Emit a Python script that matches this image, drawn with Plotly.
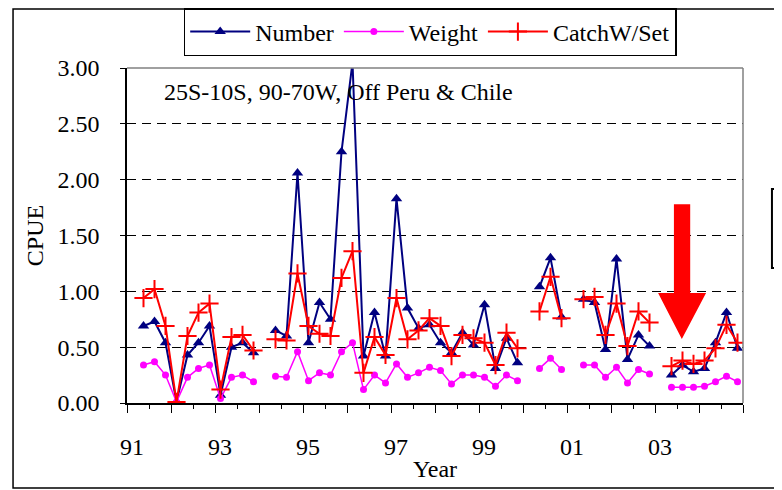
import plotly.graph_objects as go

periods = [
    "1991 Q2", "1991 Q3", "1991 Q4",
    "1992 Q1", "1992 Q2", "1992 Q3", "1992 Q4",
    "1993 Q1", "1993 Q2", "1993 Q3", "1993 Q4",
    "1994 Q1", "1994 Q2", "1994 Q3", "1994 Q4",
    "1995 Q1", "1995 Q2", "1995 Q3", "1995 Q4",
    "1996 Q1", "1996 Q2", "1996 Q3", "1996 Q4",
    "1997 Q1", "1997 Q2", "1997 Q3", "1997 Q4",
    "1998 Q1", "1998 Q2", "1998 Q3", "1998 Q4",
    "1999 Q1", "1999 Q2", "1999 Q3", "1999 Q4",
    "2000 Q1", "2000 Q2", "2000 Q3", "2000 Q4",
    "2001 Q1", "2001 Q2", "2001 Q3", "2001 Q4",
    "2002 Q1", "2002 Q2", "2002 Q3", "2002 Q4",
    "2003 Q1", "2003 Q2", "2003 Q3", "2003 Q4",
    "2004 Q1", "2004 Q2", "2004 Q3", "2004 Q4",
]

number = [
    0.69, 0.73, 0.54,
    0.01, 0.43, 0.54, 0.69,
    0.07, 0.50, 0.54, 0.45,
    None, 0.65, 0.60, 2.06,
    0.54, 0.90, 0.75, 2.25,
    3.05, 0.42, 0.81, 0.42,
    1.83, 0.85, 0.67, 0.70,
    0.54, 0.45, 0.63, 0.52,
    0.88, 0.31, 0.58, 0.36,
    None, 1.04, 1.30, 0.77,
    None, 0.93, 0.90, 0.48,
    1.29, 0.39, 0.61, 0.51,
    None, 0.25, 0.34, 0.28,
    0.31, 0.54, 0.81, 0.49,
]

weight = [
    0.34, 0.37, 0.25,
    0.01, 0.23, 0.31, 0.34,
    0.04, 0.23, 0.25, 0.19,
    None, 0.24, 0.23, 0.46,
    0.20, 0.27, 0.25, 0.46,
    0.54, 0.12, 0.25, 0.18,
    0.35, 0.23, 0.27, 0.32,
    0.29, 0.17, 0.25, 0.25,
    0.23, 0.15, 0.25, 0.20,
    None, 0.31, 0.40, 0.30,
    None, 0.34, 0.34, 0.23,
    0.32, 0.18, 0.30, 0.26,
    None, 0.14, 0.14, 0.14,
    0.15, 0.19, 0.24, 0.19,
]

catch_per_set = [
    0.94, 1.02, 0.69,
    0.01, 0.60, 0.81, 0.89,
    0.12, 0.59, 0.61, 0.47,
    None, 0.57, 0.56, 1.16,
    0.69, 0.62, 0.60, 1.12,
    1.36, 0.27, 0.59, 0.43,
    0.94, 0.57, 0.65, 0.76,
    0.69, 0.42, 0.61, 0.58,
    0.54, 0.34, 0.63, 0.49,
    None, 0.82, 1.13, 0.76,
    None, 0.93, 0.95, 0.61,
    0.89, 0.51, 0.82, 0.72,
    None, 0.33, 0.38, 0.35,
    0.38, 0.49, 0.70, 0.54,
]

label_years = [1991, 1993, 1995, 1997, 1999, 2001, 2003]
year_labels = ["91", "93", "95", "97", "99", "01", "03"]

FONT = "Liberation Serif"

# quarter centre on a continuous year axis
x = [int(p[:4]) + (int(p[-1]) - 0.5) / 4 for p in periods]

# one tick per year, text only on every second year
tick_years = list(range(1991, 2006))
labels = dict(zip(label_years, year_labels))
tick_text = [labels.get(y, "") for y in tick_years]

fig = go.Figure()

series = [
    ("Number", number, "#000080", dict(symbol="triangle-up", size=10, color="#000080"), 2),
    ("Weight", weight, "#FF00FF", dict(symbol="circle", size=7, color="#FF00FF"), 1.5),
    (
        "CatchW/Set",
        catch_per_set,
        "#FF0000",
        dict(symbol="cross-thin", size=13, color="#FF0000", line=dict(width=2, color="#FF0000")),
        2,
    ),
]
for name, values, color, marker, width in series:
    fig.add_trace(
        go.Scatter(
            x=x,
            y=values,
            name=name,
            mode="lines+markers",
            line=dict(color=color, width=width),
            marker=marker,
            connectgaps=False,
        )
    )

# the page body adds an 8px margin, so the figure is 8px smaller than the window
fig.update_layout(
    width=774,
    height=482,
    margin=dict(l=119, r=39, t=60, b=87, autoexpand=False),
    paper_bgcolor="white",
    plot_bgcolor="white",
    font=dict(family=FONT, size=24, color="black"),
    legend=dict(
        orientation="h",
        xref="container",
        yref="container",
        x=0.227,
        y=1.0,
        xanchor="left",
        yanchor="top",
        bordercolor="black",
        borderwidth=1.5,
        itemwidth=60,
        font=dict(family=FONT, size=24),
    ),
    xaxis=dict(
        range=[1991, 2005],
        tickmode="array",
        tickvals=tick_years,
        ticktext=tick_text,
        ticks="outside",
        ticklen=8,
        tickcolor="black",
        ticklabelshift=5,
        ticklabelstandoff=13,
        showgrid=False,
        zeroline=False,
        showline=True,
        linecolor="black",
        linewidth=1.5,
        minor=dict(tickmode="linear", tick0=1991.5, dtick=1, ticks="outside", ticklen=4, tickcolor="black"),
        title=dict(text="Year", standoff=2, font=dict(family=FONT, size=24)),
    ),
    yaxis=dict(
        range=[0, 3],
        tickmode="linear",
        tick0=0,
        dtick=0.5,
        tickformat=".2f",
        ticks="outside",
        ticklen=5,
        tickcolor="black",
        ticklabelstandoff=16,
        showgrid=True,
        gridcolor="black",
        gridwidth=1,
        griddash="9px,6px",
        zeroline=False,
        showline=True,
        linecolor="black",
        linewidth=1.5,
        title=dict(text="CPUE", standoff=7, font=dict(family=FONT, size=24)),
    ),
)

fig.add_annotation(
    text="25S-10S, 90-70W, Off Peru & Chile",
    xref="paper",
    yref="paper",
    x=0.057,
    y=0.928,
    xanchor="left",
    yanchor="middle",
    showarrow=False,
    font=dict(family=FONT, size=24),
)

# plot-area frame (top and right edges)
fig.add_shape(type="line", xref="paper", yref="paper", x0=0, x1=1, y0=1, y1=1,
              line=dict(color="#808080", width=1.5))
fig.add_shape(type="line", xref="paper", yref="paper", x0=1, x1=1, y0=0, y1=1,
              line=dict(color="#808080", width=1.5))

# red arrow pointing at the recent low values
fig.add_shape(
    type="path",
    xref="x",
    yref="y",
    path="M 2003.43,1.78 L 2003.80,1.78 L 2003.80,0.985 L 2004.16,0.985 "
         "L 2003.61,0.573 L 2003.07,0.985 L 2003.43,0.985 Z",
    fillcolor="#FF0000",
    line=dict(width=0),
)

# outer chart border and the clipped box on the right
fig.add_shape(type="rect", xref="paper", yref="paper", x0=-0.185, x1=1.12, y0=-0.254, y1=1.176,
              line=dict(color="black", width=1.5))
fig.add_shape(type="rect", xref="paper", yref="paper", x0=1.047, x1=1.12, y0=0.403, y1=0.639,
              line=dict(color="black", width=2))

fig.write_html("out.html")
